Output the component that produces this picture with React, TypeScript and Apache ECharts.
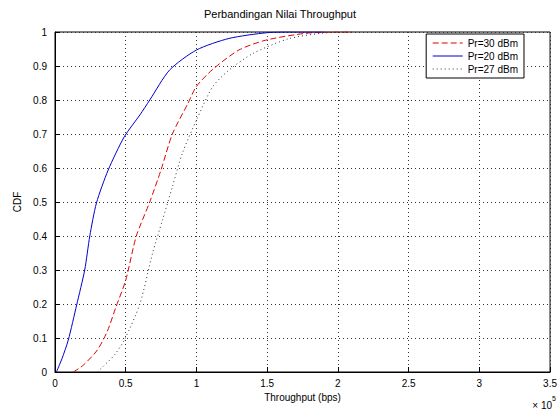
import React, { useEffect, useRef } from "react";
import * as echarts from "echarts";

const titleText = "Perbandingan Nilai Throughput";
const xName = "Throughput (bps)";
const yName = "CDF";
const seriesNames = ["Pr=30 dBm", "Pr=20 dBm", "Pr=27 dBm"];

// x in units of 1e5 bps
const redX = [0.13, 0.2, 0.3, 0.37, 0.43, 0.5, 0.575, 0.67, 0.75, 0.83, 0.94, 1.0, 1.115, 1.3, 1.49, 1.77, 2.0, 2.1];
const redY = [0.0, 0.02, 0.065, 0.12, 0.19, 0.27, 0.4, 0.5, 0.595, 0.7, 0.79, 0.84, 0.89, 0.947, 0.976, 0.996, 1.0, 1.0];

const blueX = [0.01, 0.05, 0.094, 0.153, 0.21, 0.246, 0.293, 0.376, 0.49, 0.6, 0.67, 0.81, 1.0, 1.23, 1.5, 1.7, 1.9];
const blueY = [0.0, 0.04, 0.094, 0.197, 0.3, 0.4, 0.497, 0.594, 0.692, 0.756, 0.8, 0.888, 0.947, 0.981, 0.998, 1.0, 1.0];

const dotX = [0.3, 0.34, 0.42, 0.49, 0.6, 0.69, 0.76, 0.83, 0.9, 1.0, 1.115, 1.23, 1.4, 1.65, 1.9, 2.1];
const dotY = [0.0, 0.016, 0.05, 0.094, 0.2, 0.35, 0.447, 0.545, 0.643, 0.741, 0.839, 0.888, 0.937, 0.98, 0.997, 1.0];

const xTicks = { min: 0, max: 3.5, interval: 0.5 };
const yTicks = { min: 0, max: 1, interval: 0.1 };

const zip = (xs: number[], ys: number[]) => xs.map((x, i) => [x, ys[i]]);

export default function App() {
  const ref = useRef<HTMLDivElement>(null);
  useEffect(() => {
    if (!ref.current) return;
    const chart = echarts.init(ref.current, undefined, { renderer: "svg" });
    const font = "Liberation Sans";
    const common = { type: "line", symbol: "none", showSymbol: false, smooth: 0.25 };
    chart.setOption({
      animation: false,
      backgroundColor: "#fff",
      textStyle: { fontFamily: font },
      title: {
        text: titleText,
        left: "center",
        top: 3,
        textStyle: { fontSize: 11, fontWeight: "normal", color: "#000", fontFamily: font },
      },
      grid: { left: 55, right: 7, top: 32, bottom: 40, show: true, borderColor: "#000", borderWidth: 1 },
      legend: {
        top: 34,
        right: 36,
        orient: "vertical",
        backgroundColor: "#fff",
        borderColor: "#000",
        borderWidth: 1,
        padding: [4, 6, 4, 6],
        itemGap: 3,
        itemWidth: 30,
        itemHeight: 10,
        itemStyle: { opacity: 0 },
        lineStyle: { width: 1 },
        textStyle: { fontSize: 10, color: "#000", fontFamily: font },
        data: seriesNames,
      },
      xAxis: {
        type: "value",
        min: xTicks.min,
        max: xTicks.max,
        interval: xTicks.interval,
        name: xName,
        nameLocation: "middle",
        nameGap: 17,
        nameTextStyle: { fontSize: 10, color: "#000" },
        axisLine: { lineStyle: { color: "#000" } },
        axisTick: { inside: true, length: 5, lineStyle: { color: "#000" } },
        axisLabel: { fontSize: 10, color: "#000", margin: 6 },
        splitLine: { show: true, lineStyle: { color: "#333", type: [1, 3], width: 1 } },
      },
      yAxis: {
        type: "value",
        min: yTicks.min,
        max: yTicks.max,
        interval: yTicks.interval,
        name: yName,
        nameLocation: "middle",
        nameGap: 32,
        nameTextStyle: { fontSize: 10, color: "#000" },
        axisLine: { lineStyle: { color: "#000" } },
        axisTick: { inside: true, length: 5, lineStyle: { color: "#000" } },
        axisLabel: { fontSize: 10, color: "#000", margin: 8 },
        splitLine: { show: true, lineStyle: { color: "#333", type: [1, 3], width: 1 } },
      },
      graphic: [
        {
          type: "text",
          right: 4,
          bottom: 2,
          style: {
            text: "{a|× 10}{b|5}",
            rich: {
              a: { fontSize: 10, fill: "#000", fontFamily: font, verticalAlign: "bottom" },
              b: { fontSize: 7, fill: "#000", fontFamily: font, verticalAlign: "top", padding: [0, 0, 8, 0] },
            },
          },
        },
      ],
      series: [
        {
          ...common,
          name: seriesNames[0],
          data: zip(redX, redY),
          lineStyle: { color: "#e00000", width: 1, type: [6, 3] },
          itemStyle: { color: "#e00000" },
        },
        {
          ...common,
          name: seriesNames[1],
          data: zip(blueX, blueY),
          lineStyle: { color: "#0000cc", width: 1, type: "solid" },
          itemStyle: { color: "#0000cc" },
        },
        {
          ...common,
          name: seriesNames[2],
          data: zip(dotX, dotY),
          lineStyle: { color: "#333", width: 1, type: [1, 3] },
          itemStyle: { color: "#333" },
        },
      ],
    });
    return () => chart.dispose();
  }, []);
  return <div ref={ref} style={{ width: 560, height: 412, position: "fixed", left: 0, top: 0 }} />;
}
